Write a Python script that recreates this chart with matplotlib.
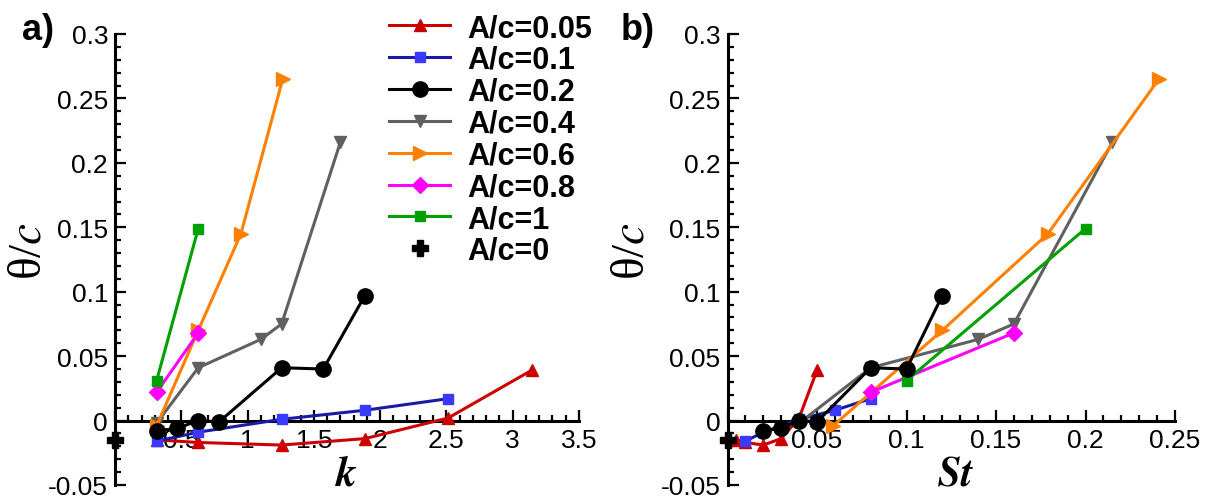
import matplotlib
matplotlib.use('Agg')
import matplotlib.pyplot as plt
from matplotlib.ticker import MultipleLocator, FuncFormatter

plt.rcParams['font.family'] = ['Liberation Sans', 'DejaVu Sans']
plt.rcParams['axes.unicode_minus'] = False
plt.rcParams['mathtext.fontset'] = 'stix'

# ---------------- data ----------------
labels = ['A/c=0.05', 'A/c=0.1', 'A/c=0.2', 'A/c=0.4', 'A/c=0.6', 'A/c=0.8', 'A/c=1', 'A/c=0']

k_005 = [0.314, 0.628, 1.257, 1.885, 2.513, 3.142]
st_005 = [0.005, 0.010, 0.020, 0.030, 0.040, 0.050]
th_005 = [-0.015, -0.017, -0.019, -0.014, 0.002, 0.039]

k_01 = [0.314, 0.628, 1.257, 1.885, 2.513]
st_01 = [0.010, 0.020, 0.040, 0.060, 0.080]
th_01 = [-0.016, -0.009, 0.001, 0.008, 0.017]

k_02 = [0.314, 0.471, 0.628, 0.785, 1.257, 1.571, 1.885]
st_02 = [0.020, 0.030, 0.040, 0.050, 0.080, 0.100, 0.120]
th_02 = [-0.008, -0.006, 0.0, -0.001, 0.041, 0.040, 0.097]

k_04 = [0.314, 0.628, 1.100, 1.257, 1.700]
st_04 = [0.040, 0.080, 0.140, 0.160, 0.215]
th_04 = [-0.002, 0.041, 0.063, 0.075, 0.216]

k_06 = [0.314, 0.628, 0.950, 1.265]
st_06 = [0.059, 0.120, 0.179, 0.241]
th_06 = [-0.004, 0.070, 0.145, 0.265]

k_08 = [0.314, 0.628]
st_08 = [0.080, 0.160]
th_08 = [0.022, 0.068]

k_1 = [0.314, 0.628]
st_1 = [0.100, 0.200]
th_1 = [0.031, 0.149]

k_0 = [0.0]
st_0 = [0.0]
th_0 = [-0.015]

left_x = [k_005, k_01, k_02, k_04, k_06, k_08, k_1, k_0]
right_x = [st_005, st_01, st_02, st_04, st_06, st_08, st_1, st_0]
theta = [th_005, th_01, th_02, th_04, th_06, th_08, th_1, th_0]

# ---------------- styles ----------------
line_colors = ['#cc0000', '#1a1aa8', '#000000', '#606060', '#ff8000', '#ff00ff', '#00a000', '#000000']
mark_colors = ['#cc0000', '#3a3aff', '#000000', '#606060', '#ff8000', '#ff00ff', '#00a000', '#000000']
markers = ['^', 's', 'o', 'v', '>', 'D', 's', 'P']
msizes = [9, 7, 11, 9, 10, 8, 7, 12]

fig = plt.figure(figsize=(12.12, 5.02), dpi=100)
axL = fig.add_axes([115 / 1212, 16 / 502, 464 / 1212, 451 / 502])
axR = fig.add_axes([727.5 / 1212, 16 / 502, 447.5 / 1212, 451 / 502])


def fmt_x(v, p):
    v = round(v, 6)
    return '' if v == 0 else f'{v:g}'


def fmt_y(v, p):
    v = round(v, 6)
    return f'{v:g}'


def style(ax, xlim, xmajor, xminor):
    ax.set_xlim(*xlim)
    ax.set_ylim(-0.05, 0.3)
    for s in ['top', 'right']:
        ax.spines[s].set_visible(False)
    ax.spines['bottom'].set_position(('data', 0))
    ax.spines['bottom'].set_linewidth(2.2)
    ax.spines['left'].set_linewidth(2.2)
    ax.xaxis.set_major_locator(MultipleLocator(xmajor))
    ax.xaxis.set_minor_locator(MultipleLocator(xminor))
    ax.yaxis.set_major_locator(MultipleLocator(0.05))
    ax.yaxis.set_minor_locator(MultipleLocator(0.01))
    ax.xaxis.set_major_formatter(FuncFormatter(fmt_x))
    ax.yaxis.set_major_formatter(FuncFormatter(fmt_y))
    ax.tick_params(which='both', direction='in', width=1.6, colors='black')
    ax.tick_params(which='major', length=8, labelsize=19, pad=5)
    ax.tick_params(which='minor', length=4)
    ax.set_ylabel('θ/$c$', family='Liberation Serif', fontsize=34)


style(axL, (0, 3.5), 0.5, 0.1)
style(axR, (0, 0.25), 0.05, 0.01)

handles = []
for ax, xs in [(axL, left_x), (axR, right_x)]:
    hs = []
    for i in range(len(labels)):
        ls = '-' if i < 7 else 'none'
        h, = ax.plot(xs[i], theta[i], linestyle=ls, color=line_colors[i], lw=2.2,
                     marker=markers[i], ms=msizes[i], mfc=mark_colors[i], mec=mark_colors[i],
                     clip_on=False, zorder=3 + (1 if i == 2 else 0))
        hs.append(h)
    handles = hs

axL.set_xlabel('$\\boldsymbol{k}$', fontsize=30)
axR.set_xlabel('$\\boldsymbol{St}$', fontsize=30)
axL.xaxis.set_label_coords(0.5, 0.07)
axR.xaxis.set_label_coords(0.51, 0.07)
axL.yaxis.set_label_coords(-0.14, 0.52)
axR.yaxis.set_label_coords(-0.165, 0.52)

fig.text(0.018, 0.94, 'a)', fontsize=26, fontweight='bold', va='center')
fig.text(0.512, 0.94, 'b)', fontsize=26, fontweight='bold', va='center')

fig.legend(handles, labels, loc='upper left', bbox_to_anchor=(389 / 1212, 0.972),
           frameon=False, prop={'weight': 'bold', 'size': 22}, handlelength=2.0,
           handletextpad=0.55, labelspacing=0.06, borderpad=0, borderaxespad=0)

fig.savefig('out.png', dpi=100)
